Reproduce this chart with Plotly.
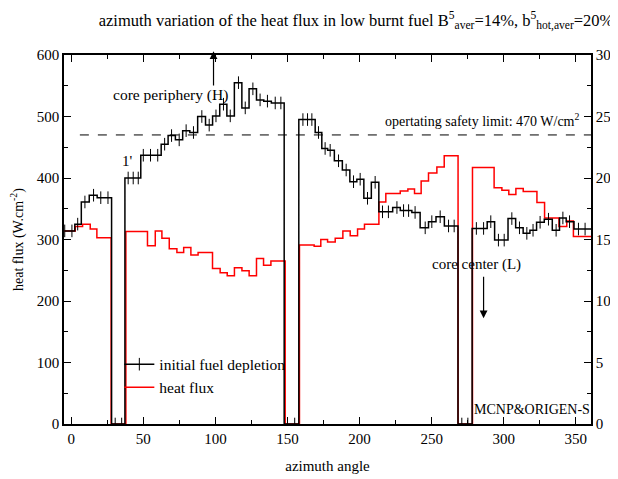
import plotly.graph_objects as go

# Initial fuel depletion (%) - step-center points (right axis)
dep_angle = [-4.5, 0.5, 4.5, 9.5, 15.5, 20.5, 25.5, 30.5, 35.0,
             39.5, 43.0, 46.5, 50.0, 55.0, 60.0, 64.8, 69.6, 74.9, 79.7, 84.8,
             90.6, 95.7, 100.4, 105.6, 110.3, 116.0, 120.7, 126.0, 131.0, 136.1,
             141.5, 145.4, 150.0, 155.0,
             160.7, 163.9, 166.9, 171.5, 176.1, 179.6, 185.4, 190.7, 195.8, 200.4,
             205.5, 210.8, 215.9, 220.0, 225.9, 230.5, 234.0, 238.5, 245.5, 250.1,
             255.9, 261.7, 265.6, 270.9, 275.1,
             281.0, 286.0, 291.0, 296.3, 300.3, 305.6, 310.9, 316.0, 320.3, 325.2,
             331.0, 336.3, 341.0, 345.6, 351.8, 356.4, 361.0]
dep_value = [15.7, 15.7, 16.25, 18.05, 18.6, 18.4, 18.4, 0.0, 0.0,
             20.0, 20.0, 20.0, 21.85, 21.85, 21.85, 22.75, 23.45, 23.1, 23.85, 23.7,
             25.0, 24.3, 25.05, 26.0, 25.05, 27.75, 25.7, 27.25, 26.35, 26.25,
             26.1, 26.1, 0.0, 0.0,
             24.75, 24.75, 24.75, 23.7, 22.4, 22.25, 21.4, 20.65, 19.7, 19.9,
             18.35, 19.65, 17.25, 17.25, 17.6, 17.35, 17.35, 17.2, 15.95, 16.45,
             16.85, 16.1, 16.1, 0.0, 0.0,
             15.9, 15.9, 16.45, 14.95, 14.95, 16.7, 15.95, 15.5, 15.75, 16.4,
             16.65, 15.75, 16.75, 16.45, 15.85, 15.85, 15.85]

# Heat flux (W/cm^2) - step starts (left axis)
flux_angle = [-5.0, 2.8, 7.9, 13.2, 17.8, 27.7, 37.9, 52.9, 58.3, 62.9, 68.0,
              73.3, 78.0, 83.0, 88.0, 98.0, 103.3, 108.2, 113.2, 118.4, 123.4,
              128.5, 133.4, 138.5, 148.4, 158.3, 168.5, 173.1, 177.8, 183.1,
              188.4, 193.5, 198.6, 203.4, 213.4, 218.2, 228.2, 233.5, 238.1,
              242.7, 247.8, 253.6, 258.7, 268.3, 278.3, 293.3, 298.7, 303.5,
              308.4, 313.5, 323.0, 328.3, 338.3, 343.7, 348.3, 361.0]
flux_value = [314, 321, 325, 317, 303, 0, 313, 290, 314, 302, 285,
              279, 287, 275, 279, 253, 246, 241, 254, 249, 241,
              269, 258, 265, 0, 291, 289, 300, 296, 302,
              314, 306, 317, 325, 361, 375, 379, 382, 375,
              395, 408, 418, 436, 0, 417, 384, 380, 373,
              383, 378, 360, 335, 321, 330, 305, 305]

safety_limit = 470
x_ticks = [0, 50, 100, 150, 200, 250, 300, 350]

FONT = "Liberation Serif, Times New Roman, serif"

fig = go.Figure()

fig.add_trace(go.Scatter(
    x=flux_angle, y=flux_value, mode="lines", name="heat flux",
    line=dict(color="#ff0000", width=1.5, shape="hv"),
    yaxis="y", legendrank=2))

fig.add_trace(go.Scatter(
    x=dep_angle, y=dep_value, mode="lines+markers", name="initial fuel depletion",
    line=dict(color="black", width=1.5, shape="hvh"),
    marker=dict(symbol="line-ns-open", size=9, line=dict(color="black", width=1)),
    yaxis="y2", legendrank=1))

fig.add_shape(type="line", xref="x", yref="y", x0=6, x1=360.5,
              y0=safety_limit, y1=safety_limit,
              line=dict(color="black", width=1, dash="dash"))

ann_font = dict(family=FONT, size=15.5, color="black")
fig.add_annotation(x=68.7, y=535, xref="x", yref="y", text="core periphery (H)",
                   showarrow=False, font=ann_font)
fig.add_annotation(x=98.7, y=606, xref="x", yref="y", ax=98.7, ay=548,
                   axref="x", ayref="y", text="", showarrow=True,
                   arrowhead=2, arrowsize=1.3, arrowwidth=1.2, arrowcolor="black")
fig.add_annotation(x=280.9, y=260, xref="x", yref="y", text="core center (L)",
                   showarrow=False, font=dict(family=FONT, size=15, color="black"))
fig.add_annotation(x=286, y=172, xref="x", yref="y", ax=286, ay=242,
                   axref="x", ayref="y", text="", showarrow=True,
                   arrowhead=2, arrowsize=1.3, arrowwidth=1.2, arrowcolor="black")
fig.add_annotation(x=38.8, y=428, xref="x", yref="y", text="1'",
                   showarrow=False, font=dict(family=FONT, size=15, color="black"))
fig.add_annotation(x=285, y=495, xref="x", yref="y",
                   text="opertating safety limit: 470 W/cm<sup>2</sup>",
                   showarrow=False, font=dict(family=FONT, size=14, color="black"))
fig.add_annotation(x=319.7, y=23, xref="x", yref="y", text="MCNP&ORIGEN-S",
                   showarrow=False, font=dict(family=FONT, size=14, color="black"))

axis_common = dict(showline=True, linecolor="black", linewidth=1.5,
                   ticks="inside", tickcolor="black", tickwidth=1, ticklen=7,
                   showgrid=False, zeroline=False, automargin=False,
                   tickfont=dict(family=FONT, size=15, color="black"))

# The page body adds an 8px margin, so the figure is sized to fit inside it.
fig.update_layout(
    width=610, height=471,
    margin=dict(l=56, r=27, t=47, b=55, autoexpand=False),
    paper_bgcolor="white", plot_bgcolor="white",
    title=dict(text="azimuth variation of the heat flux in low burnt fuel "
                    "B<sup>5</sup><sub>aver</sub>=14%, b<sup>5</sup><sub>hot,aver</sub>=20%",
               x=0.5705, xanchor="center", y=0.9745, yanchor="middle",
               font=dict(family=FONT, size=16.5, color="black")),
    xaxis=dict(range=[-5, 360.5], tickvals=x_ticks, mirror="ticks",
               minor=dict(ticks="inside", dtick=25, tick0=0, ticklen=4, tickcolor="black"),
               title=dict(text="azimuth angle", font=dict(family=FONT, size=15, color="black"),
                          standoff=15),
               **axis_common),
    yaxis=dict(range=[0, 600], dtick=100,
               minor=dict(ticks="inside", dtick=50, ticklen=4, tickcolor="black"),
               title=dict(text="heat flux (W.cm<sup>-2</sup>)",
                          font=dict(family=FONT, size=14, color="black"), standoff=12),
               **axis_common),
    yaxis2=dict(range=[0, 30], dtick=5, overlaying="y", side="right", anchor="x",
                minor=dict(ticks="inside", dtick=2.5, ticklen=4, tickcolor="black"),
                **axis_common),
    legend=dict(x=0.105, y=0.207, xanchor="left", yanchor="top",
                bgcolor="rgba(0,0,0,0)", font=dict(family=FONT, size=15.5, color="black"),
                itemwidth=30, tracegroupgap=0),
    showlegend=True,
)

fig.write_html("out.html")
